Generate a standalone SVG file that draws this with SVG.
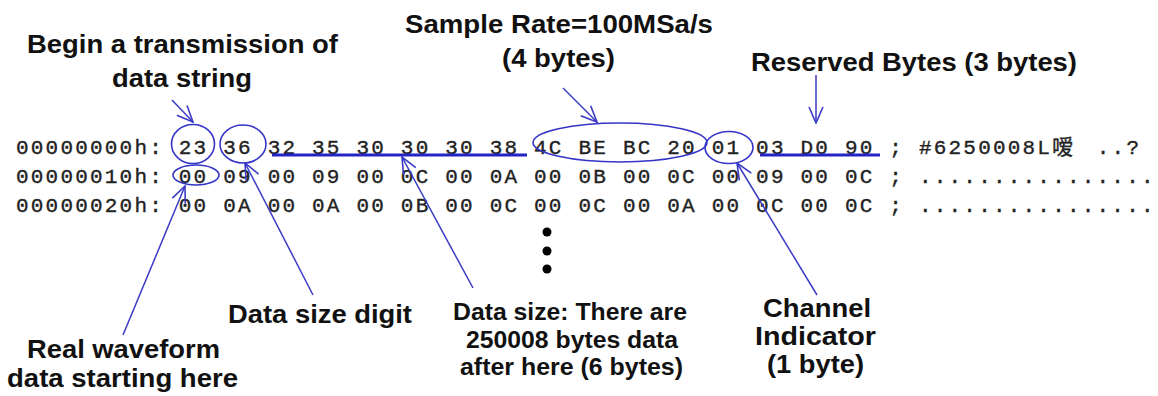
<svg xmlns="http://www.w3.org/2000/svg" width="1158" height="396" viewBox="0 0 1158 396">
<style>
.hex{font-family:"Liberation Mono","Courier New",monospace;font-size:21px;letter-spacing:2.2px;fill:#222;stroke:#222;stroke-width:0.35;white-space:pre}
.cjk{font-family:"Noto Sans CJK SC",sans-serif;font-size:21px;letter-spacing:0}
.lbl{font-family:"Liberation Sans",Arial,sans-serif;font-weight:bold;font-size:26px;fill:#111}
.sm{font-size:23.5px}
.ch{font-size:25px}
.ell{fill:none;stroke:#3434c8;stroke-width:1.6}
.ul{stroke:#2424c4;stroke-width:3}
.arr{stroke:#3a3ac4;stroke-width:1.5;fill:none;marker-end:url(#ah)}
</style>
<defs>
<marker id="ah" viewBox="0 0 18 18" refX="17" refY="9" markerWidth="18" markerHeight="18" markerUnits="userSpaceOnUse" orient="auto">
<path d="M1,2 L17,9 L1,16" fill="none" stroke="#3a3ac4" stroke-width="1.6"/>
</marker>
</defs>
<rect width="1158" height="396" fill="#fff"/>
<g id="hexdump">
<text class="hex" x="16" y="154" xml:space="preserve">00000000h: 23 36 32 35 30 30 30 38 4C BE BC 20 01 03 D0 90 ; #6250008L<tspan class="cjk" x="1052">嗳</tspan><tspan x="1082"> ..?</tspan></text>
<text class="hex" x="16" y="183" xml:space="preserve">00000010h: 00 09 00 09 00 0C 00 0A 00 0B 00 0C 00 09 00 0C ; ................</text>
<text class="hex" x="16" y="212" xml:space="preserve">00000020h: 00 0A 00 0A 00 0B 00 0C 00 0C 00 0A 00 0C 00 0C ; ................</text>
<circle cx="547" cy="232" r="4.5" fill="#000"/>
<circle cx="547" cy="251" r="4.5" fill="#000"/>
<circle cx="547" cy="269" r="4.5" fill="#000"/>
</g>
<g id="highlights">
<ellipse class="ell" cx="193" cy="144" rx="21.5" ry="19.5"/>
<ellipse class="ell" cx="243" cy="144" rx="23" ry="19"/>
<ellipse class="ell" cx="196" cy="175" rx="23" ry="10"/>
<ellipse class="ell" cx="620" cy="142.5" rx="87" ry="19.5"/>
<ellipse class="ell" cx="729" cy="147.5" rx="24" ry="16"/>
<line class="ul" x1="272" y1="155" x2="527" y2="155"/>
<line class="ul" x1="760" y1="155" x2="880" y2="155"/>
</g>
<g id="label-begin">
<text class="lbl" x="27" y="53" textLength="311" lengthAdjust="spacingAndGlyphs">Begin a transmission of</text>
<text class="lbl" x="112" y="87" textLength="140" lengthAdjust="spacingAndGlyphs">data string</text>
</g>
<g id="label-sample-rate">
<text class="lbl" x="405" y="33" textLength="308" lengthAdjust="spacingAndGlyphs">Sample Rate=100MSa/s</text>
<text class="lbl" x="502" y="67" textLength="113" lengthAdjust="spacingAndGlyphs">(4 bytes)</text>
</g>
<g id="label-reserved">
<text class="lbl" x="751" y="71" textLength="326" lengthAdjust="spacingAndGlyphs">Reserved Bytes (3 bytes)</text>
</g>
<g id="label-real-waveform">
<text class="lbl" x="27" y="358" textLength="193" lengthAdjust="spacingAndGlyphs">Real waveform</text>
<text class="lbl" x="7" y="387" textLength="231" lengthAdjust="spacingAndGlyphs">data starting here</text>
</g>
<g id="label-data-size-digit">
<text class="lbl" x="228" y="323" textLength="184" lengthAdjust="spacingAndGlyphs">Data size digit</text>
</g>
<g id="label-data-size">
<text class="lbl sm" x="453" y="320" textLength="234" lengthAdjust="spacingAndGlyphs">Data size: There are</text>
<text class="lbl sm" x="466" y="348" textLength="212" lengthAdjust="spacingAndGlyphs">250008 bytes data</text>
<text class="lbl sm" x="460" y="375" textLength="223" lengthAdjust="spacingAndGlyphs">after here (6 bytes)</text>
</g>
<g id="label-channel">
<text class="lbl ch" x="763" y="317" textLength="108" lengthAdjust="spacingAndGlyphs">Channel</text>
<text class="lbl ch" x="755" y="345" textLength="121" lengthAdjust="spacingAndGlyphs">Indicator</text>
<text class="lbl ch" x="767" y="373" textLength="97" lengthAdjust="spacingAndGlyphs">(1 byte)</text>
</g>
<g id="connectors">
<line class="arr" x1="172" y1="100" x2="193" y2="122"/>
<line class="arr" x1="563" y1="88" x2="597" y2="122"/>
<line class="arr" x1="816" y1="75" x2="816" y2="123"/>
<line class="arr" x1="123" y1="335" x2="185" y2="186"/>
<line class="arr" x1="313" y1="295" x2="245" y2="163"/>
<line class="arr" x1="473" y1="288" x2="402" y2="157"/>
<line class="arr" x1="817" y1="295" x2="737" y2="163"/>
</g>
</svg>
